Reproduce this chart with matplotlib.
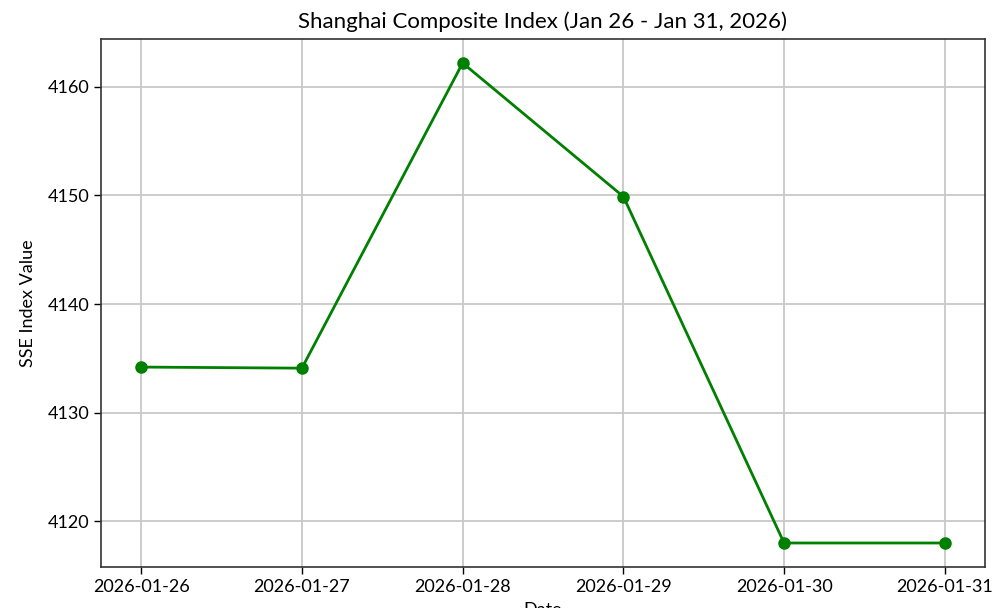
# Shanghai Composite Index line chart
import matplotlib
matplotlib.use('Agg')
import matplotlib.pyplot as plt
import matplotlib.dates as mdates
import pandas as pd

dates = ['2026-01-26', '2026-01-27', '2026-01-28', '2026-01-29', '2026-01-30', '2026-01-31']
sse_values = [4134.2, 4134.1, 4162.2, 4149.9, 4118.0, 4118.0]

plt.rcParams['font.family'] = ['Lato', 'DejaVu Sans']

x = pd.to_datetime(dates)

fig = plt.figure(figsize=(9.95, 6.08), dpi=100)
ax = fig.add_axes([101 / 995, 1 - 567 / 608, 884 / 995, 528 / 608])

ax.plot(x, sse_values, color='green', marker='o', linewidth=2, markersize=8)
ax.set_title('Shanghai Composite Index (Jan 26 - Jan 31, 2026)', fontsize=16, pad=8)
ax.set_xlabel('Date', fontsize=13, labelpad=5)
ax.set_ylabel('SSE Index Value', fontsize=13, labelpad=8)

ax.xaxis.set_major_locator(mdates.DayLocator())
ax.xaxis.set_major_formatter(mdates.DateFormatter('%Y-%m-%d'))
ax.set_yticks([4120, 4130, 4140, 4150, 4160])
ax.tick_params(labelsize=13, length=5, width=1)
ax.grid(True, color='#c8c8c8', linewidth=1.3)
for s in ax.spines.values():
    s.set_color('#333333')
    s.set_linewidth(1.2)

plt.savefig('out.png', dpi=100)
